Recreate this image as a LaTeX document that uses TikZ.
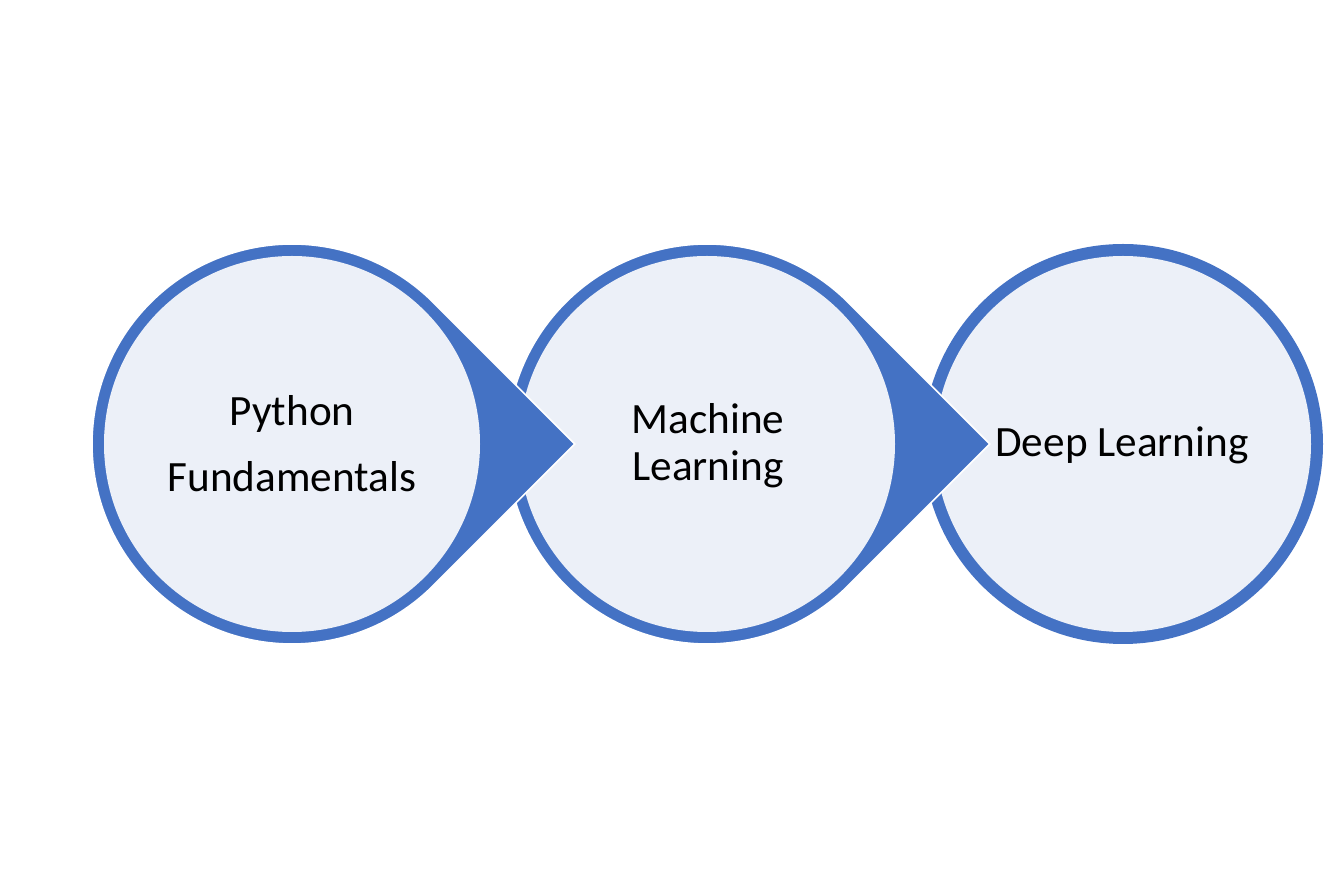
\documentclass[tikz,border=0pt]{standalone}
\usepackage{fontspec}
\setmainfont{Carlito}
\usepackage{tikz}
\usetikzlibrary{calc}
\usetikzlibrary{positioning}
\definecolor{ringblue}{HTML}{4472C4}
\definecolor{innerfill}{HTML}{ECF0F8}

\begin{document}
\begin{tikzpicture}
\tikzstyle{drop}=[fill=ringblue,draw=white,line width=0.45pt,line join=miter]
\tikzstyle{inner}=[fill=innerfill]
\tikzstyle{label}=[align=center,inner sep=0pt,text=black]
\useasboundingbox (0, 0) rectangle (13.33, 8.89);
\coordinate (c1) at (2.92, 4.45);
\coordinate (c2) at (7.07, 4.45);
\coordinate (c3) at (11.23, 4.45);
% last circle has no pointer
\fill[ringblue] (c3) circle (2);
\fill[inner] (c3) circle (1.88);
% drawn from right to left, so each pointer lies over the next circle
\foreach \c in {c2, c1} {
  \filldraw[drop] (\c) ++(45:2) arc[start angle=45, end angle=315, radius=2] -- ++(45:2) -- cycle;
  \fill[inner] (\c) circle (1.88);
}
\node[label,font=\fontsize{12.3}{18.8}\selectfont] at(2.92, 4.455) (python) {Python\\Fundamentals};
\node[label,font=\fontsize{12.3}{13.4}\selectfont] at(7.08, 4.43) (ml) {Machine\\Learning};
\node[label,font=\fontsize{12.3}{14}\selectfont] at(11.22, 4.44) (dl) {Deep Learning};
\end{tikzpicture}
\end{document}
